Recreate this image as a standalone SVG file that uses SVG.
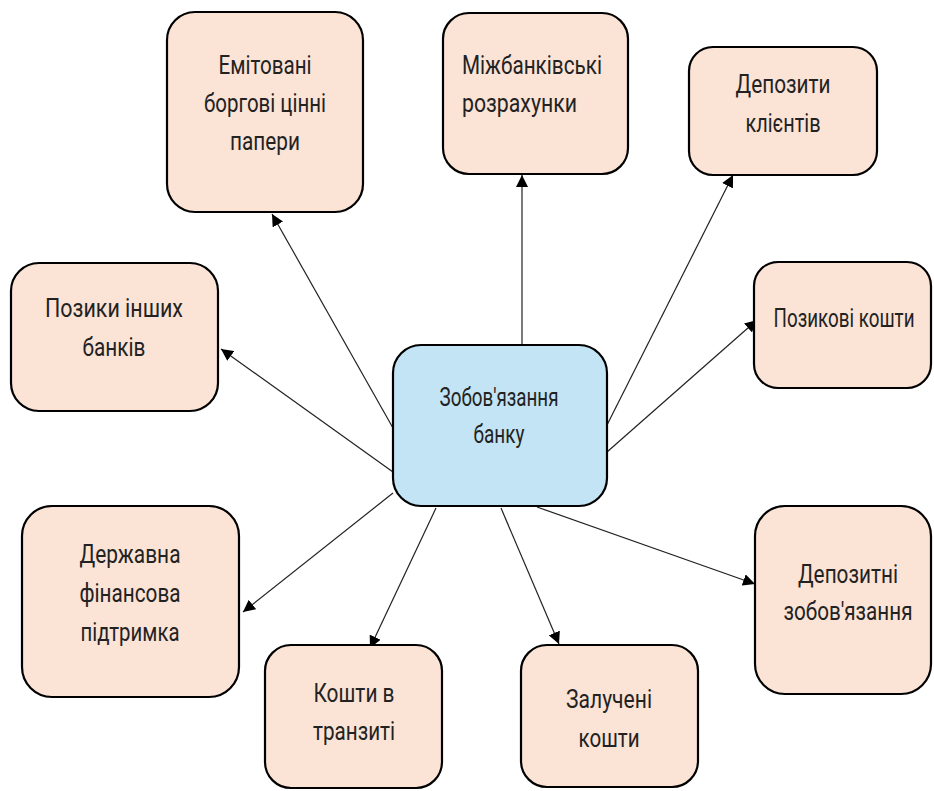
<svg xmlns="http://www.w3.org/2000/svg" width="934" height="791" viewBox="0 0 934 791">
<defs>
<style>
.box{fill:#fbe3d6;stroke:#000;stroke-width:2.2}
.core{fill:#c3e4f4;stroke:#000;stroke-width:2.2}
.t{font-family:Roboto,"Liberation Sans",sans-serif;font-size:20px;fill:#222;text-anchor:middle}
.tl{text-anchor:start}
.c{stroke:#222;stroke-width:1.2;fill:none;marker-end:url(#ah)}
</style>
<marker id="ah" viewBox="0 0 10 10" refX="10" refY="5" markerWidth="12" markerHeight="12" markerUnits="userSpaceOnUse" orient="auto">
<path d="M0,0 L10,5 L0,10 z" fill="#000"/>
</marker>
</defs>
<rect width="934" height="791" fill="#fff"/>
<g id="connectors">
<line class="c" x1="393" y1="428" x2="272" y2="214"/>
<line class="c" x1="522" y1="345" x2="522" y2="175"/>
<line class="c" x1="607" y1="425" x2="733" y2="175"/>
<line class="c" x1="607" y1="452" x2="757" y2="320"/>
<line class="c" x1="393" y1="472" x2="221" y2="349"/>
<line class="c" x1="393" y1="493" x2="243" y2="612"/>
<line class="c" x1="436" y1="508" x2="370" y2="648"/>
<line class="c" x1="501" y1="508" x2="559" y2="644"/>
<line class="c" x1="537" y1="507" x2="755" y2="584"/>
</g>
<g id="n-emit">
<rect class="box" x="167" y="12" width="196" height="200" rx="28"/>
<text class="t" transform="matrix(1,0,0,1.3,265,74)" textLength="93" lengthAdjust="spacingAndGlyphs">Емітовані</text>
<text class="t" transform="matrix(1,0,0,1.3,265,112)" textLength="122" lengthAdjust="spacingAndGlyphs">боргові цінні</text>
<text class="t" transform="matrix(1,0,0,1.3,265,150)" textLength="70" lengthAdjust="spacingAndGlyphs">папери</text>
</g>
<g id="n-mizhbank">
<rect class="box" x="443" y="13" width="185" height="161" rx="26"/>
<text class="t tl" transform="matrix(1,0,0,1.3,462,74)" textLength="140" lengthAdjust="spacingAndGlyphs">Міжбанківські</text>
<text class="t tl" transform="matrix(1,0,0,1.3,462,112)" textLength="115" lengthAdjust="spacingAndGlyphs">розрахунки</text>
</g>
<g id="n-depklient">
<rect class="box" x="689" y="47" width="188" height="128" rx="24"/>
<text class="t" transform="matrix(1,0,0,1.3,783,93)" textLength="95" lengthAdjust="spacingAndGlyphs">Депозити</text>
<text class="t" transform="matrix(1,0,0,1.3,783,132)" textLength="75" lengthAdjust="spacingAndGlyphs">клієнтів</text>
</g>
<g id="n-pozykovi">
<rect class="box" x="754" y="262" width="177" height="126" rx="24"/>
<text class="t" transform="matrix(1,0,0,1.3,844,327)" textLength="141" lengthAdjust="spacingAndGlyphs">Позикові кошти</text>
</g>
<g id="n-core">
<rect class="core" x="393" y="345" width="214" height="161" rx="28"/>
<text class="t" transform="matrix(1,0,0,1.3,499,406)" textLength="119" lengthAdjust="spacingAndGlyphs">Зобов'язання</text>
<text class="t" transform="matrix(1,0,0,1.3,499,443)" textLength="51" lengthAdjust="spacingAndGlyphs">банку</text>
</g>
<g id="n-pozyky">
<rect class="box" x="11" y="263" width="207" height="148" rx="28"/>
<text class="t" transform="matrix(1,0,0,1.3,114,317)" textLength="138" lengthAdjust="spacingAndGlyphs">Позики інших</text>
<text class="t" transform="matrix(1,0,0,1.3,114,356)" textLength="63" lengthAdjust="spacingAndGlyphs">банків</text>
</g>
<g id="n-derzh">
<rect class="box" x="22" y="506" width="217" height="191" rx="30"/>
<text class="t" transform="matrix(1,0,0,1.3,130,563)" textLength="101" lengthAdjust="spacingAndGlyphs">Державна</text>
<text class="t" transform="matrix(1,0,0,1.3,130,602)" textLength="101" lengthAdjust="spacingAndGlyphs">фінансова</text>
<text class="t" transform="matrix(1,0,0,1.3,130,641)" textLength="99" lengthAdjust="spacingAndGlyphs">підтримка</text>
</g>
<g id="n-tranzyt">
<rect class="box" x="265" y="645" width="177" height="143" rx="26"/>
<text class="t" transform="matrix(1,0,0,1.3,354,702)" textLength="81" lengthAdjust="spacingAndGlyphs">Кошти в</text>
<text class="t" transform="matrix(1,0,0,1.3,354,740)" textLength="82" lengthAdjust="spacingAndGlyphs">транзиті</text>
</g>
<g id="n-zaluch">
<rect class="box" x="521" y="645" width="177" height="142" rx="26"/>
<text class="t" transform="matrix(1,0,0,1.3,609,708)" textLength="86" lengthAdjust="spacingAndGlyphs">Залучені</text>
<text class="t" transform="matrix(1,0,0,1.3,609,747)" textLength="61" lengthAdjust="spacingAndGlyphs">кошти</text>
</g>
<g id="n-depzob">
<rect class="box" x="755" y="506" width="176" height="188" rx="30"/>
<text class="t" transform="matrix(1,0,0,1.3,848,583)" textLength="100" lengthAdjust="spacingAndGlyphs">Депозитні</text>
<text class="t" transform="matrix(1,0,0,1.3,848,620)" textLength="129" lengthAdjust="spacingAndGlyphs">зобов'язання</text>
</g>
</svg>
